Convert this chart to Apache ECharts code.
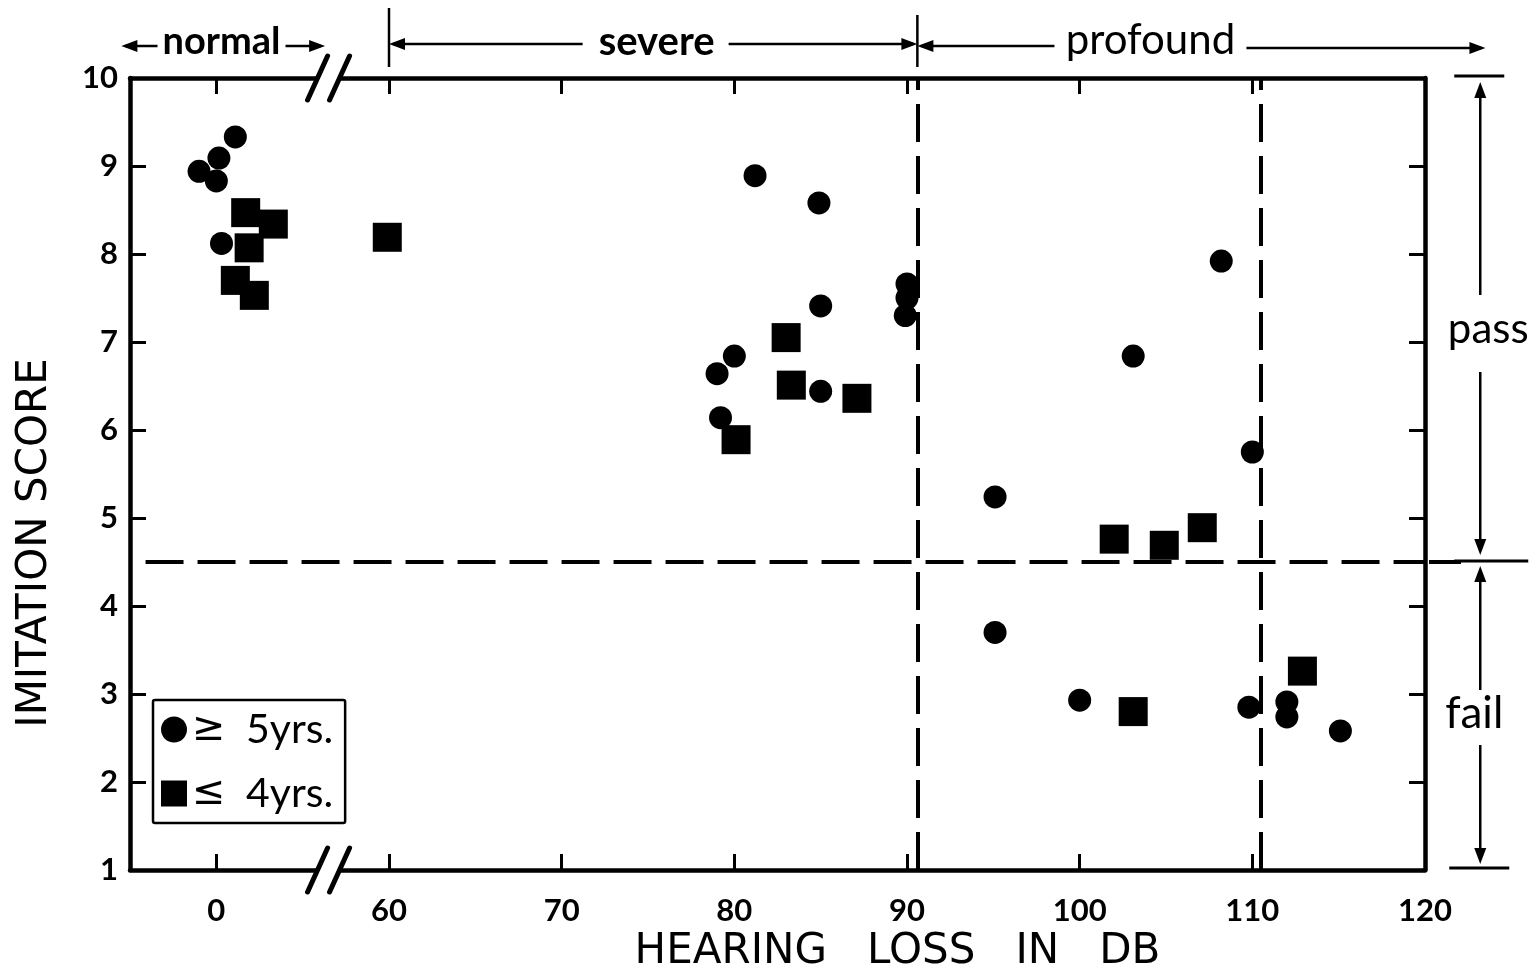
<!DOCTYPE html>
<html>
<head>
<meta charset="utf-8">
<script src="https://cdn.jsdelivr.net/npm/echarts@6/dist/echarts.min.js"></script>
<style>
html,body{margin:0;padding:0;background:#fff;}
#chart{width:1537px;height:978px;}
</style>
</head>
<body>
<div id="chart"></div>
<script>
// ---------------- data ----------------
// x tick labels (dB); the axis has a break between 0 and 60
const xTickLabels = [0, 60, 70, 80, 90, 100, 110, 120];
const yTickLabels = [1, 2, 3, 4, 5, 6, 7, 8, 9, 10];

// children aged >= 5 years (circles)
const olderLoss  = [1.1, 0.15, -1.0, 0.0, 0.3, 81.2, 84.9, 90.0, 90.0, 89.9, 85.0, 80.0, 79.0, 85.0, 79.2, 108.2, 103.1, 110.0, 95.1, 95.1, 100.0, 109.8, 112.0, 112.0, 115.1];
const olderScore = [9.33, 9.09, 8.94, 8.83, 8.12, 8.89, 8.58, 7.66, 7.50, 7.30, 7.41, 6.84, 6.64, 6.44, 6.14, 7.92, 6.84, 5.75, 5.24, 3.70, 2.93, 2.85, 2.91, 2.74, 2.58];

// children aged <= 4 years (squares)
const youngerLoss  = [1.7, 3.3, 1.9, 1.1, 2.2, 59.9, 83.0, 83.3, 87.1, 80.1, 102.0, 104.9, 107.1, 103.1, 112.9];
const youngerScore = [8.47, 8.34, 8.07, 7.70, 7.53, 8.19, 7.05, 6.51, 6.36, 5.89, 4.76, 4.69, 4.89, 2.80, 3.26];

// reference lines
const lossBoundaries = [90.6, 110.5];
const passCutoff = 4.5;

// series names
const olderName = '\u2265 5yrs.';
const youngerName = '\u2264 4yrs.';

// ---------------- axis break mapping ----------------
// values of the "normal" group (near 0 dB) are drawn 50 units to the right,
// so that 0 sits one interval left of 60.
const BREAK_SHIFT = 50;
function mapX(db) { return db < 30 ? db + BREAK_SHIFT : db; }
function unmapX(v) { return v < 55 ? Math.round(v - BREAK_SHIFT) : Math.round(v); }

const FONT = 'Lato';
const TITLE_FONT = 'DejaVu Sans';
const BLACK = '#000';

const xCustom = xTickLabels.map(mapX);

const olderData = olderLoss.map((x, i) => [mapX(x), olderScore[i]]);
const youngerData = youngerLoss.map((x, i) => [mapX(x), youngerScore[i]]);

const X_MIN = 45, X_MAX = 120;

const axisLineStyle = { color: BLACK, width: 4.5 };
const tickStyle = { color: BLACK, width: 3 };

const chart = echarts.init(document.getElementById('chart'), null, { renderer: 'canvas' });

const option = {
  backgroundColor: '#fff',
  animation: false,
  grid: { left: 130, right: 112, top: 78, bottom: 108, containLabel: false, outerBoundsMode: 'none' },
  xAxis: [
    {
      type: 'value', position: 'bottom', min: X_MIN, max: X_MAX,
      axisLine: { show: true, onZero: false, lineStyle: axisLineStyle },
      axisTick: { show: true, inside: true, length: 16, lineStyle: tickStyle, customValues: xCustom },
      axisLabel: {
        show: true, margin: 25, customValues: xCustom,
        color: BLACK, fontFamily: FONT, fontWeight: 'bold', fontSize: 31,
        formatter: v => String(unmapX(v))
      },
      splitLine: { show: false },
      name: 'HEARING   LOSS   IN   DB', nameLocation: 'middle', nameGap: 44,
      nameTextStyle: { color: BLACK, fontFamily: TITLE_FONT, fontSize: 42, padding: [0, 0, 0, 240] }
    },
    {
      type: 'value', position: 'top', min: X_MIN, max: X_MAX,
      axisLine: { show: true, onZero: false, lineStyle: axisLineStyle },
      axisTick: { show: true, inside: true, length: 16, lineStyle: tickStyle, customValues: xCustom },
      axisLabel: { show: false },
      splitLine: { show: false }
    }
  ],
  yAxis: [
    {
      type: 'value', position: 'left', min: 1, max: 10, interval: 1,
      axisLine: { show: true, onZero: false, lineStyle: axisLineStyle },
      axisTick: { show: true, inside: true, length: 16, lineStyle: tickStyle },
      axisLabel: { show: true, margin: 12, color: BLACK, fontFamily: FONT, fontWeight: 'bold', fontSize: 31 },
      splitLine: { show: false },
      name: 'IMITATION SCORE', nameLocation: 'middle', nameGap: 74, nameRotate: 90,
      nameTextStyle: { color: BLACK, fontFamily: TITLE_FONT, fontSize: 42, padding: [0, 138, 0, 0] }
    },
    {
      type: 'value', position: 'right', min: 1, max: 10, interval: 1,
      axisLine: { show: true, onZero: false, lineStyle: axisLineStyle },
      axisTick: { show: true, inside: true, length: 16, lineStyle: tickStyle },
      axisLabel: { show: false },
      splitLine: { show: false }
    }
  ],
  legend: {
    left: 153, top: 700, orient: 'vertical',
    itemWidth: 26, itemHeight: 26, itemGap: 23, itemTextGap: 6,
    padding: [9, 12, 9, 8],
    borderColor: BLACK, borderWidth: 2.5, borderRadius: 2,
    selectedMode: false,
    formatter: name => '{op|' + name.charAt(0) + '}  {t|' + name.slice(2) + '}',
    textStyle: {
      color: BLACK, fontFamily: FONT, fontSize: 40, lineHeight: 40,
      rich: {
        op: { fontFamily: 'DejaVu Sans', fontSize: 40, lineHeight: 40, color: BLACK },
        t: { fontFamily: FONT, fontSize: 41, lineHeight: 40, color: BLACK }
      }
    },
    data: [{ name: olderName, icon: 'circle' }, { name: youngerName, icon: 'rect' }]
  },
  series: [
    {
      name: olderName, type: 'scatter', xAxisIndex: 0, yAxisIndex: 0,
      symbol: 'circle', symbolSize: 23,
      itemStyle: { color: BLACK, opacity: 1 },
      data: olderData, z: 5,
      markLine: {
        silent: true, symbol: 'none', animation: false,
        label: { show: false },
        lineStyle: { color: BLACK, width: 4, type: [38, 14] },
        emphasis: { disabled: true },
        data: [
          { xAxis: lossBoundaries[0] },
          { xAxis: lossBoundaries[1] },
          [{ coord: [45.9, passCutoff] }, { coord: [X_MAX, passCutoff] }]
        ]
      }
    },
    {
      name: youngerName, type: 'scatter', xAxisIndex: 0, yAxisIndex: 0,
      symbol: 'rect', symbolSize: 29,
      itemStyle: { color: BLACK, opacity: 1 },
      data: youngerData, z: 6
    }
  ]
};

chart.setOption(option);

// ---------------- annotations (positioned through the axes) ----------------
const X = v => chart.convertToPixel({ xAxisIndex: 0 }, v);
const Y = v => chart.convertToPixel({ yAxisIndex: 0 }, v);

const g = [];
const LW = 2.5;
function line(x1, y1, x2, y2, w, dash) {
  g.push({ type: 'line', z: 100, silent: true,
    shape: { x1, y1, x2, y2 },
    style: { stroke: BLACK, lineWidth: w || LW, lineDash: dash || null, lineCap: 'butt' } });
}
function arrowHead(tx, ty, dir) { // dir: 'left','right','up','down'
  const L = 16, H = 6;
  let pts;
  if (dir === 'left') pts = [[tx, ty], [tx + L, ty - H], [tx + L, ty + H]];
  if (dir === 'right') pts = [[tx, ty], [tx - L, ty - H], [tx - L, ty + H]];
  if (dir === 'up') pts = [[tx, ty], [tx - H, ty + L], [tx + H, ty + L]];
  if (dir === 'down') pts = [[tx, ty], [tx - H, ty - L], [tx + H, ty - L]];
  g.push({ type: 'polygon', z: 100, silent: true, shape: { points: pts }, style: { fill: BLACK } });
}
function text(str, x, y, size, weight) {
  g.push({ type: 'text', z: 100, silent: true, x, y,
    style: { text: str, fill: BLACK, fontFamily: FONT, fontSize: size, fontWeight: weight || 'normal',
      align: 'center', verticalAlign: 'middle' } });
}

// top: hearing-loss categories
const topY = 46;
// normal
const nL = X(mapX(-5.5)), nR = X(mapX(6.3)), nC = X(mapX(0.3));
text('normal', nC, topY - 4, 38, 'bold');
line(nL + 4, topY, nC - 64, topY); arrowHead(nL, topY, 'left');
line(nC + 64, topY, nR - 4, topY); arrowHead(nR, topY, 'right');
// severe
const sL = X(60), sR = X(lossBoundaries[0]), sC = X(75.5);
line(sL, 8, sL, 67, 2.5);
text('severe', sC, topY - 4, 40, 'bold');
line(sL + 4, topY - 2, sC - 74, topY - 2); arrowHead(sL, topY - 2, 'left');
line(sC + 72, topY - 2, sR - 4, topY - 2); arrowHead(sR, topY - 2, 'right');
// profound
const pL = X(lossBoundaries[0]), pR = X(123.5), pC = X(104.1);
line(pL, 15, pL, 67, 2.5);
text('profound', pC, topY - 6, 42, 'normal');
line(pL + 4, topY, pC - 96, topY); arrowHead(pL, topY, 'left');
line(pC + 96, topY + 2, pR - 4, topY + 2); arrowHead(pR, topY + 2, 'right');

// right: pass / fail
const ax = X(123.2);
const yTop = Y(10), yCut = Y(passCutoff), yBot = Y(1);
line(ax - 26, yTop - 2, ax + 24, yTop - 2, 3);
arrowHead(ax, yTop + 4, 'up'); line(ax, yTop + 18, ax, 295);
text('pass', ax + 8, 329, 42, 'normal');
line(ax, 372, ax, yCut - 20); arrowHead(ax, yCut - 7, 'down');
// horizontal cutoff extension beyond the frame
line(X(X_MAX) + 4, yCut, X(X_MAX) + 36, yCut, 4);
line(ax - 26, yCut - 1, ax + 48, yCut - 1, 3);
arrowHead(ax, yCut + 4, 'up'); line(ax, yCut + 18, ax, 690);
text('fail', ax - 6, 714, 44, 'normal');
line(ax, 745, ax, yBot - 20); arrowHead(ax, yBot - 6, 'down');
line(ax - 31, yBot - 2, ax + 29, yBot - 2, 3);

// axis-break marks "//" on top and bottom frame lines
const bc = X(56.5);
[Y(10), Y(1)].forEach(yy => {
  g.push({ type: 'rect', z: 99, silent: true, shape: { x: bc - 10, y: yy - 5, width: 20, height: 10 }, style: { fill: '#fff' } });
  [-11, 11].forEach(dx => {
    g.push({ type: 'line', z: 100, silent: true,
      shape: { x1: bc + dx - 10, y1: yy + 22, x2: bc + dx + 10, y2: yy - 22 },
      style: { stroke: BLACK, lineWidth: 5, lineCap: 'round' } });
  });
});

chart.setOption({ graphic: g });
</script>
</body>
</html>
